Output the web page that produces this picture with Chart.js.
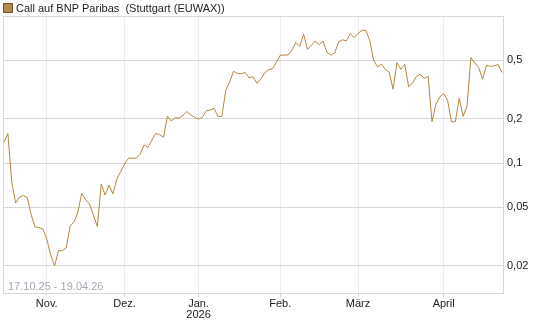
<!DOCTYPE html>
<html>
<head>
    <title>Call auf BNP Paribas</title>
    <script src="https://cdn.jsdelivr.net/npm/chart.js"></script>
    <style>
        body { margin: 0; background: #fff; }
    </style>
</head>
<body>
    <canvas id="kursChart" width="545" height="327"></canvas>

    <script>
        // Schlusskurse je Handelstag (17.10.25 - 19.04.26)
        const kurse = [
            0.139, 0.159, 0.0744, 0.0536, 0.0588, 0.0602, 0.0583, 0.0444, 0.0368, 0.0365,
            0.0357, 0.0305, 0.0238, 0.0200, 0.0254, 0.0254, 0.0265, 0.0374, 0.0398, 0.0465,
            0.0626, 0.0563, 0.0527, 0.0441, 0.0370, 0.0721, 0.0607, 0.0710, 0.0617, 0.0779,
            0.0876, 0.0985, 0.108, 0.108, 0.108, 0.115, 0.133, 0.128, 0.143, 0.159,
            0.156, 0.150, 0.208, 0.193, 0.204, 0.202, 0.212, 0.224, 0.213, 0.205,
            0.199, 0.205, 0.227, 0.229, 0.236, 0.208, 0.208, 0.313, 0.356, 0.421,
            0.408, 0.406, 0.413, 0.380, 0.386, 0.349, 0.372, 0.411, 0.432, 0.438,
            0.485, 0.541, 0.543, 0.543, 0.585, 0.662, 0.622, 0.751, 0.594, 0.632,
            0.676, 0.639, 0.676, 0.567, 0.541, 0.562, 0.665, 0.689, 0.678, 0.759,
            0.711, 0.762, 0.799, 0.799, 0.683, 0.500, 0.452, 0.470, 0.434, 0.415,
            0.318, 0.482, 0.434, 0.470, 0.330, 0.349, 0.389, 0.402, 0.376, 0.389,
            0.191, 0.251, 0.281, 0.297, 0.268, 0.191, 0.191, 0.276, 0.208, 0.244,
            0.522, 0.479, 0.446, 0.372, 0.462, 0.455, 0.458, 0.468, 0.413
        ];

        // Monatsanfang als Handelstag-Index
        const monatsIndex = [11, 31, 50, 71, 91, 113];
        const monatsNamen = ['Nov.', 'Dez.', ['Jan.', '2026'], 'Feb.', 'März', 'April'];

        const yTicks = [0.02, 0.05, 0.1, 0.2, 0.5];

        const titel = 'Call auf BNP Paribas  (Stuttgart (EUWAX))';
        const zeitraum = '17.10.25 - 19.04.26';

        const schrift = 'Arial, "Liberation Sans", sans-serif';
        const linienFarbe = '#b5873f';

        // Rahmen, Legende und Zeitraum zeichnen
        const rahmenPlugin = {
            id: 'rahmen',
            beforeDatasetsDraw(chart) {
                const { ctx, chartArea: a } = chart;
                ctx.save();
                ctx.strokeStyle = '#d8d8d8';
                ctx.lineWidth = 1;
                ctx.strokeRect(a.left + 0.5, a.top + 0.5, a.right - a.left, a.bottom - a.top);
                ctx.fillStyle = '#a3a8b3';
                ctx.font = '11px ' + schrift;
                ctx.textBaseline = 'middle';
                ctx.fillText(zeitraum, 8, 287);
                ctx.restore();
            },
            afterDraw(chart) {
                const { ctx } = chart;
                ctx.save();
                ctx.fillStyle = '#b38a52';
                ctx.fillRect(4, 4, 8, 8);
                ctx.strokeStyle = '#6f5230';
                ctx.lineWidth = 1;
                ctx.strokeRect(3.5, 3.5, 9, 9);
                ctx.fillStyle = '#222';
                ctx.font = '11px ' + schrift;
                ctx.textBaseline = 'middle';
                ctx.fillText(titel, 16, 8.5);
                ctx.restore();
            }
        };

        const ctx = document.getElementById('kursChart').getContext('2d');
        new Chart(ctx, {
            type: 'line',
            data: {
                datasets: [{
                    label: titel,
                    data: kurse.map((k, i) => ({ x: i, y: k })),
                    borderColor: linienFarbe,
                    borderWidth: 1,
                    pointRadius: 0,
                    tension: 0,
                    fill: false
                }]
            },
            options: {
                responsive: false,
                animation: false,
                devicePixelRatio: 1,
                layout: { padding: { left: 3, top: 16, right: 0, bottom: 0 } },
                plugins: {
                    legend: { display: false },
                    tooltip: { enabled: false }
                },
                scales: {
                    x: {
                        type: 'linear',
                        min: -0.25,
                        max: kurse.length - 0.75,
                        afterBuildTicks: scale => {
                            scale.ticks = monatsIndex.map(v => ({ value: v }));
                        },
                        afterFit: scale => { scale.height = 34; },
                        grid: {
                            color: '#eeeeee',
                            tickColor: '#d8d8d8',
                            tickLength: 4
                        },
                        border: { color: '#d8d8d8' },
                        ticks: {
                            autoSkip: false,
                            maxRotation: 0,
                            padding: 1,
                            color: '#222',
                            font: { family: schrift, size: 11, lineHeight: 1.05 },
                            callback: value => {
                                const i = monatsIndex.indexOf(value);
                                return i >= 0 ? monatsNamen[i] : '';
                            }
                        }
                    },
                    y: {
                        type: 'logarithmic',
                        position: 'right',
                        min: 0.0131,
                        max: 1.0,
                        afterBuildTicks: scale => {
                            scale.ticks = yTicks.map(v => ({ value: v }));
                        },
                        afterFit: scale => { scale.width = 42; },
                        grid: {
                            color: '#d8d8d8',
                            drawTicks: false
                        },
                        border: { color: '#d8d8d8' },
                        ticks: {
                            padding: 4,
                            color: '#222',
                            font: { family: schrift, size: 11 },
                            callback: value => String(value).replace('.', ',')
                        }
                    }
                }
            },
            plugins: [rahmenPlugin]
        });
    </script>
</body>
</html>
